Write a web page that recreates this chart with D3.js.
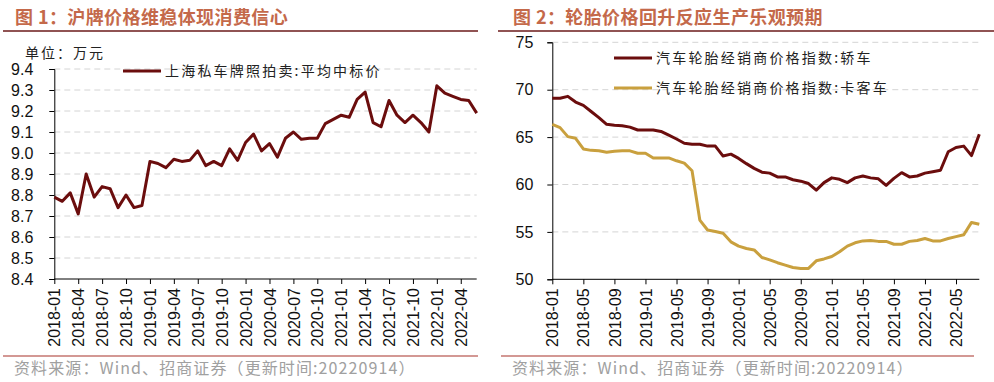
<!DOCTYPE html>
<html><head><meta charset="utf-8">
<script src="https://cdn.jsdelivr.net/npm/d3@7"></script>
<style>
body{margin:0;background:#fff;}
svg{display:block;}
</style></head>
<body>
<svg id="c" width="994" height="382"></svg>
<script>
// ---------- DATA ----------
function months(y0, m0, n){const a=[];for(let i=0;i<n;i++){const t=m0-1+i;a.push((y0+Math.floor(t/12))+"-"+String(t%12+1).padStart(2,"0"));}return a;}
const leftMonths = months(2018,1,54);   // 2018-01 .. 2022-06
const plateLabel = "上海私车牌照拍卖:平均中标价";
const plateValues = [8.79,8.77,8.81,8.71,8.90,8.79,8.84,8.83,8.74,8.80,8.74,8.75,8.96,8.95,8.93,8.97,8.96,8.965,9.01,8.94,8.96,8.94,9.02,8.965,9.05,9.09,9.01,9.045,8.98,9.07,9.10,9.065,9.07,9.07,9.14,9.16,9.18,9.17,9.255,9.29,9.145,9.125,9.25,9.18,9.145,9.18,9.145,9.10,9.32,9.285,9.27,9.255,9.25,9.19];
const leftYTicks = [8.4,8.5,8.6,8.7,8.8,8.9,9.0,9.1,9.2,9.3,9.4];

const rightMonths = months(2018,1,56);  // 2018-01 .. 2022-08
const sedanLabel = "汽车轮胎经销商价格指数:轿车";
const truckLabel = "汽车轮胎经销商价格指数:卡客车";
const sedanValues = [69.1,69.1,69.3,68.7,68.35,67.7,67.05,66.35,66.25,66.2,66.05,65.75,65.75,65.75,65.6,65.2,64.8,64.35,64.25,64.25,64.05,64.05,63.0,63.2,62.75,62.2,61.7,61.3,61.2,60.8,60.8,60.5,60.35,60.1,59.4,60.2,60.7,60.55,60.2,60.7,60.9,60.7,60.6,59.9,60.65,61.25,60.8,60.9,61.2,61.35,61.5,63.45,63.9,64.05,63.05,65.3];
const truckValues = [66.35,66.0,65.05,64.87,63.75,63.6,63.55,63.4,63.5,63.55,63.55,63.3,63.3,62.8,62.8,62.8,62.5,62.25,61.45,56.25,55.2,55.05,54.85,53.95,53.5,53.25,53.1,52.3,52.05,51.75,51.5,51.25,51.15,51.15,51.95,52.15,52.4,52.9,53.5,53.85,54.05,54.1,54.0,54.0,53.7,53.7,54.0,54.1,54.3,54.05,54.05,54.3,54.5,54.7,56.0,55.8];
const rightYTicks = [50,55,60,65,70,75];

const title1 = "图 1：沪牌价格维稳体现消费信心";
const title2 = "图 2：轮胎价格回升反应生产乐观预期";
const unitText = "单位：万元";
const sourceText = "资料来源：Wind、招商证券（更新时间:20220914）";

// ---------- STYLE ----------
const DARK = "#6b0d0d", GOLD = "#c9a03e", TITLE = "#c4694a";
const CJK = "'Noto Sans CJK SC', sans-serif";
const NUM = "'Liberation Sans', Arial, sans-serif";
const svg = d3.select("#c");

function panel(o){
  const g = svg.append("g");
  // title
  g.append("text").attr("x",o.titleX).attr("y",24).text(o.title)
    .attr("font-family",CJK).attr("font-weight","bold").attr("font-size",18)
    .attr("letter-spacing",0.4).attr("fill",TITLE);
  g.append("line").attr("x1",o.ulX1).attr("x2",o.ulX2).attr("y1",31).attr("y2",31)
    .attr("stroke","#6b1a1a").attr("stroke-width",1.5);

  const x = d3.scalePoint().domain(o.months).range([o.x0,o.x1]);
  const y = d3.scaleLinear().domain(o.yDomain).range([o.yB,o.yT]);

  // grid
  g.append("g").selectAll("line").data(o.yTicks.slice(1)).join("line")
    .attr("x1",o.x0).attr("x2",o.x1).attr("y1",d=>y(d)).attr("y2",d=>y(d))
    .attr("stroke","#d4d4d4").attr("stroke-width",1).attr("stroke-dasharray","6,4");

  // y axis
  const ya = g.append("g").attr("transform",`translate(${o.x0},0)`)
    .call(d3.axisLeft(y).tickValues(o.yTicks).tickFormat(o.yFmt).tickSizeOuter(0).tickSize(5).tickPadding(o.yPad));
  ya.select(".domain").attr("stroke","#000");
  ya.selectAll(".tick line").attr("stroke","#000");
  ya.selectAll("text").attr("font-family",NUM).attr("font-size",16).attr("fill","#111");

  // x axis
  const xa = g.append("g").attr("transform",`translate(0,${o.yB})`)
    .call(d3.axisBottom(x).tickValues(o.xTicks).tickSizeOuter(0).tickSize(5).tickPadding(0));
  xa.select(".domain").attr("stroke","#000").attr("d",`M${o.x0},0H${o.x1}`);
  xa.selectAll(".tick line").attr("stroke","#000");
  xa.selectAll("text").attr("font-family",NUM).attr("font-size",16).attr("fill","#111")
    .attr("transform","rotate(-90)").attr("text-anchor","end").attr("dy","0.35em")
    .attr("x",-9).attr("y",0);

  // lines
  o.series.forEach(s=>{
    g.append("path").datum(s.values)
      .attr("fill","none").attr("stroke",s.color).attr("stroke-width",3).attr("stroke-linejoin","round")
      .attr("d",d3.line().x((d,i)=>x(o.months[i])).y(d=>y(d)));
  });

  // legend
  o.series.forEach((s,i)=>{
    const ly = o.legY + i*o.legDy;
    g.append("line").attr("x1",o.legX).attr("x2",o.legX+38).attr("y1",ly).attr("y2",ly)
      .attr("stroke",s.color).attr("stroke-width",3);
    g.append("text").attr("x",o.legX+42).attr("y",ly+5).text(s.label)
      .attr("font-family",CJK).attr("font-size",14).attr("letter-spacing",2.2).attr("fill","#222");
  });

  // bottom separator + source
  g.append("line").attr("x1",o.bX1).attr("x2",o.bX2).attr("y1",356).attr("y2",356)
    .attr("stroke","#a8322a").attr("stroke-width",1.2);
  g.append("text").attr("x",o.srcX).attr("y",374).text(sourceText)
    .attr("font-family",CJK).attr("font-size",16).attr("letter-spacing",1.1).attr("fill","#a0a0a0");
  return g;
}

const lp = panel({
  title:title1, titleX:15, ulX1:3, ulX2:478,
  months:leftMonths, x0:54.3, x1:476.7, yDomain:[8.4,9.4], yB:279, yT:69,
  yTicks:leftYTicks, yFmt:d3.format(".1f"), yPad:16,
  xTicks:leftMonths.filter((d,i)=>i%3===0 && i<=51),
  series:[{values:plateValues,color:DARK,label:plateLabel}],
  legX:123, legY:71, legDy:0, bX1:3, bX2:478, srcX:14
});
lp.append("text").attr("x",25).attr("y",58).text(unitText)
  .attr("font-family",CJK).attr("font-size",14).attr("letter-spacing",2).attr("fill","#222");

panel({
  title:title2, titleX:513, ulX1:498, ulX2:994,
  months:rightMonths, x0:552.3, x1:979.3, yDomain:[50,75], yB:279.3, yT:42.3,
  yTicks:rightYTicks, yFmt:d3.format("d"), yPad:14,
  xTicks:rightMonths.filter((d,i)=>i%4===0 && i<=52),
  series:[{values:sedanValues,color:DARK,label:sedanLabel},{values:truckValues,color:GOLD,label:truckLabel}],
  legX:614, legY:58, legDy:30, bX1:501, bX2:974, srcX:512
});
</script>
</body></html>
